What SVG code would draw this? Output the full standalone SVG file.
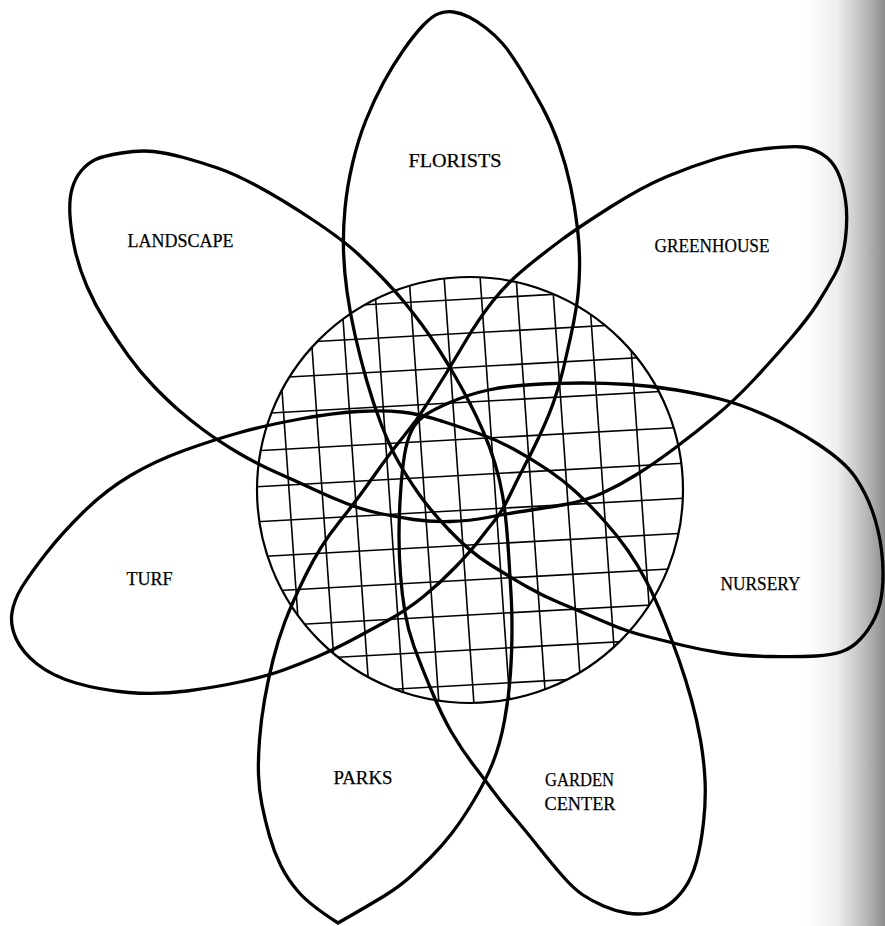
<svg xmlns="http://www.w3.org/2000/svg" width="885" height="926" viewBox="0 0 885 926">
<defs>
<style>
.petal{fill:none;stroke:#000;stroke-width:3.3;stroke-linecap:round;stroke-linejoin:round}
.hub{fill:none;stroke:#000;stroke-width:2.2}
.grid line{stroke:#000;stroke-width:1.6}
.lbl{font-family:"Liberation Serif","Times New Roman",serif;font-size:18.5px;fill:#000;stroke:#000;stroke-width:0.25;text-anchor:middle}
</style>
<linearGradient id="edge" x1="0" y1="0" x2="1" y2="0">
<stop offset="0" stop-color="#ffffff"/>
<stop offset="0.4" stop-color="#eeeeee"/>
<stop offset="0.75" stop-color="#bbbbbb"/>
<stop offset="1" stop-color="#8c8c8c"/>
</linearGradient>
<clipPath id="hubclip"><circle cx="470" cy="490" r="213"/></clipPath>
</defs>
<rect width="885" height="926" fill="#fff"/>
<rect x="805" y="0" width="80" height="926" fill="url(#edge)"/>

<g id="hub">
<g class="grid" clip-path="url(#hubclip)">
<line x1="271.5" y1="240" x2="306.5" y2="740"/>
<line x1="304.5" y1="240" x2="339.5" y2="740"/>
<line x1="337.5" y1="240" x2="372.5" y2="740"/>
<line x1="371.5" y1="240" x2="406.5" y2="740"/>
<line x1="406.5" y1="240" x2="441.5" y2="740"/>
<line x1="441.5" y1="240" x2="476.5" y2="740"/>
<line x1="477.5" y1="240" x2="512.5" y2="740"/>
<line x1="513.5" y1="240" x2="548.5" y2="740"/>
<line x1="549.5" y1="240" x2="584.5" y2="740"/>
<line x1="585.5" y1="240" x2="620.5" y2="740"/>
<line x1="623.5" y1="240" x2="658.5" y2="740"/>
<line x1="240" y1="311.65" x2="700" y2="286.35"/>
<line x1="240" y1="345.65" x2="700" y2="320.35"/>
<line x1="240" y1="379.65" x2="700" y2="354.35"/>
<line x1="240" y1="414.65" x2="700" y2="389.35"/>
<line x1="240" y1="451.65" x2="700" y2="426.35"/>
<line x1="240" y1="487.65" x2="700" y2="462.35"/>
<line x1="240" y1="522.65" x2="700" y2="497.35"/>
<line x1="240" y1="557.65" x2="700" y2="532.35"/>
<line x1="240" y1="592.65" x2="700" y2="567.35"/>
<line x1="240" y1="627.65" x2="700" y2="602.35"/>
<line x1="240" y1="662.65" x2="700" y2="637.35"/>
<line x1="240" y1="697.65" x2="700" y2="672.35"/>
</g>
<circle class="hub" cx="470" cy="490" r="213"/>
</g>

<g id="petal-florists">
<path class="petal" d="M450,531 Q430,510 418.5,493.5 Q407,477 398.5,462 Q390,447 381.5,425 Q373,403 366.5,380 Q360,357 355,335 Q350,313 347,291.5 Q344,270 343.5,250 Q343,230 345,208.5 Q347,187 352.5,163.5 Q358,140 366,120 Q374,100 383.5,82.5 Q393,65 403.5,50 Q414,35 423,25.5 Q432,16 439,13.5 Q446,11 453.5,12 Q461,13 469,17 Q477,21 486,28 Q495,35 502.5,43.5 Q510,52 521,70 Q532,88 542,106.5 Q552,125 559,145 Q566,165 570.5,186 Q575,207 577.5,228.5 Q580,250 579.5,270 Q579,290 576.5,306 Q574,322 570.5,337.5 Q567,353 563.5,368 Q560,383 555,398 Q550,413 541.5,431.5 Q533,450 525,465 Q517,480 510,495 Q503,510 495,520 Q487,530 478.5,541"/>
<text class="lbl" x="455" y="167" textLength="93" lengthAdjust="spacingAndGlyphs">FLORISTS</text>
</g>

<g id="petal-turf">
<path class="petal" d="M478.5,541 Q470,552 455,567.5 Q440,583 423.5,596.5 Q407,610 386,621.5 Q365,633 349,641.5 Q333,650 316.5,657 Q300,664 283.5,670 Q267,676 242,681.5 Q217,687 187,691 Q157,695 128.5,692.5 Q100,690 76,683 Q52,676 37,664 Q22,652 16,638.5 Q10,625 12,612.5 Q14,600 22,587 Q30,574 46,553.5 Q62,533 84,511.5 Q106,490 130.5,475.5 Q155,461 184,450.5 Q213,440 240,432.5 Q267,425 300,419 Q333,413 358,411.5 Q383,410 401.5,412 Q420,414 441.5,421"/>
<text class="lbl" x="149.5" y="585" textLength="46" lengthAdjust="spacingAndGlyphs">TURF</text>
</g>

<g id="petal-garden-center">
<path class="petal" d="M441.5,421 Q463,428 480,434 Q497,440 513.5,449 Q530,458 546.5,469 Q563,480 576.5,492.5 Q590,505 603.5,520 Q617,535 627.5,550 Q638,565 646.5,581.5 Q655,598 663.5,619 Q672,640 679,660 Q686,680 691.5,700 Q697,720 700.5,740 Q704,760 705,780 Q706,800 703.5,822.5 Q701,845 696.5,861.5 Q692,878 684,889 Q676,900 667.5,905.5 Q659,911 649,913 Q639,915 627,913 Q615,911 603.5,906 Q592,901 583,895 Q574,889 563,876.5 Q552,864 538.5,847 Q525,830 513.5,816.5 Q502,803 493.5,791.5 Q485,780 473.5,765 Q462,750 452,733 Q442,716 431,689.5 Q420,663 414,646.5 Q408,630 405,612.5 Q402,595 400.5,575 Q399,555 399,536 Q399,517 400.5,493.5"/>
<text class="lbl" x="579.5" y="786" textLength="69" lengthAdjust="spacingAndGlyphs">GARDEN</text>
<text class="lbl" x="580" y="810" textLength="71" lengthAdjust="spacingAndGlyphs">CENTER</text>
</g>

<g id="petal-nursery">
<path class="petal" d="M400.5,493.5 Q402,470 404.5,455 Q407,440 411.5,431 Q416,422 424,416 Q432,410 451,402 Q470,394 488.5,390 Q507,386 533.5,384.5 Q560,383 582.5,383 Q605,383 629,384.5 Q653,386 676.5,390 Q700,394 720,399 Q740,404 766,415.5 Q792,427 818.5,444.5 Q845,462 855.5,477.5 Q866,493 872.5,511.5 Q879,530 881.5,550 Q884,570 882.5,587.5 Q881,605 875,617.5 Q869,630 860.5,639 Q852,648 842,651.5 Q832,655 816,656 Q800,657 771,656.5 Q742,656 722,653 Q702,650 683.5,645.5 Q665,641 647,636.5 Q629,632 614.5,626 Q600,620 588.5,615 Q577,610 560,603 Q543,596 526.5,586.5 Q510,577 490,564.5 Q470,552 450,531"/>
<text class="lbl" x="760.5" y="590" textLength="80" lengthAdjust="spacingAndGlyphs">NURSERY</text>
</g>

<g id="petal-landscape">
<path class="petal" d="M450,521.5 Q430,522 413.5,519.5 Q397,517 380,513.5 Q363,510 346.5,503.5 Q330,497 314,489.5 Q298,482 276.5,472.5 Q255,463 236,451.5 Q217,440 203.5,430 Q190,420 178.5,410 Q167,400 153.5,386 Q140,372 128.5,356 Q117,340 106,322.5 Q95,305 87,286.5 Q79,268 75,250 Q71,232 70,216 Q69,200 72,189 Q75,178 81.5,170.5 Q88,163 95.5,159.5 Q103,156 121.5,153 Q140,150 153.5,151.5 Q167,153 183.5,157.5 Q200,162 217.5,168 Q235,174 259,187 Q283,200 313,220 Q343,240 358,254 Q373,268 384.5,280 Q396,292 405,303 Q414,314 422.5,325.5 Q431,337 439.5,350.5 Q448,364 455.5,377 Q463,390 470,403.5"/>
<text class="lbl" x="180.5" y="247" textLength="106" lengthAdjust="spacingAndGlyphs">LANDSCAPE</text>
</g>

<g id="petal-parks">
<path class="petal" d="M470,403.5 Q477,417 483.5,432 Q490,447 495,463.5 Q500,480 502.5,495 Q505,510 506.5,526.5 Q508,543 509,560 Q510,577 511,593.5 Q512,610 512,630 Q512,650 510.5,673 Q509,696 504.5,720.5 Q500,745 492.5,763.5 Q485,782 473.5,801 Q462,820 452,833 Q442,846 431,857 Q420,868 410,877 Q400,886 385,895.5 Q366,907 338,923 Q310,905 299,892.5 Q288,880 281,866 Q274,852 269.5,836 Q265,820 262,805 Q259,790 258.5,775 Q258,760 259.5,740 Q261,720 264.5,700 Q268,680 273,660 Q278,640 285,621.5 Q292,603 306,574.5 Q320,546 338.5,523 Q357,500 373.5,476.5"/>
<text class="lbl" x="363" y="784" textLength="59" lengthAdjust="spacingAndGlyphs">PARKS</text>
</g>

<g id="petal-greenhouse">
<path class="petal" d="M373.5,476.5 Q390,453 403.5,436.5 Q417,420 427,404 Q437,388 444.5,376 Q452,364 465,342 Q478,320 492.5,301.5 Q507,283 526,267.5 Q545,252 562,239.5 Q579,227 610.5,207 Q642,187 667,176.5 Q692,166 717,158.5 Q742,151 767,148.5 Q792,146 802,147 Q812,148 822,154 Q832,160 837.5,171.5 Q843,183 845.5,200 Q848,217 845.5,238.5 Q843,260 834.5,275 Q826,290 817.5,303.5 Q809,317 792,337 Q775,357 755,378.5 Q735,400 715,416.5 Q695,433 675,448 Q655,463 637.5,474 Q620,485 602.5,493 Q585,501 565,504.5 Q545,508 525,511 Q505,514 487.5,517.5 Q470,521 450,521.5"/>
<text class="lbl" x="712" y="252" textLength="115" lengthAdjust="spacingAndGlyphs">GREENHOUSE</text>
</g>
</svg>
